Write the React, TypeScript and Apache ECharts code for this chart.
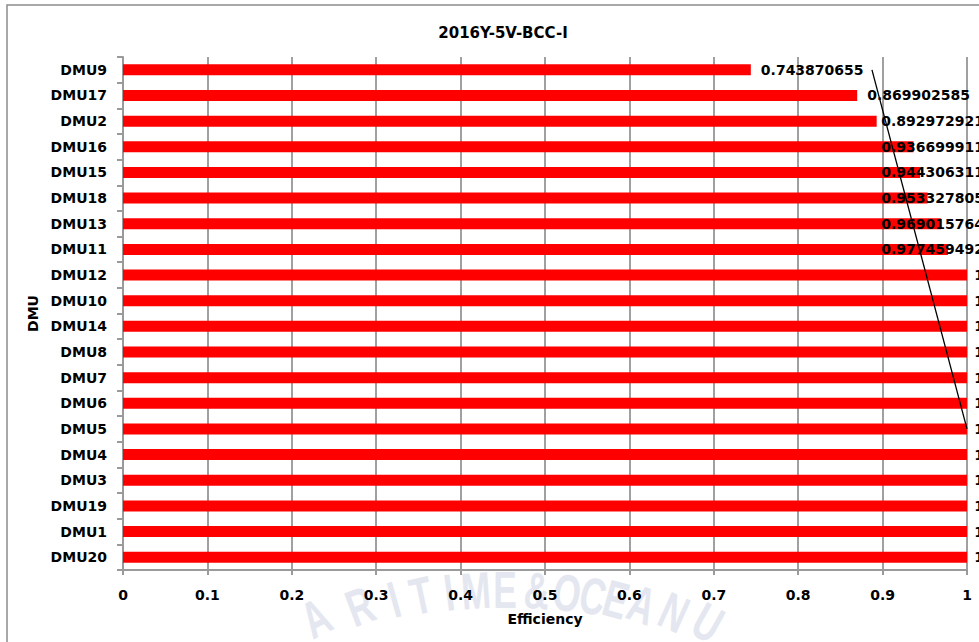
import React, { useEffect, useRef } from "react";
import * as echarts from "echarts";

// DMUs listed top to bottom
const categories = [
  "DMU9", "DMU17", "DMU2", "DMU16", "DMU15", "DMU18", "DMU13", "DMU11", "DMU12", "DMU10",
  "DMU14", "DMU8", "DMU7", "DMU6", "DMU5", "DMU4", "DMU3", "DMU19", "DMU1", "DMU20",
];

// BCC input-oriented efficiency scores
const efficiency = [
  0.743870655, 0.869902585, 0.892972921, 0.936699911, 0.944306311, 0.953327805,
  0.969015764, 0.977459492, 1, 1, 1, 1, 1, 1, 1, 1, 1, 1, 1, 1,
];

// straight guide line drawn over the bars: [efficiency, DMU]
const guideLine: [number, string][] = [
  [0.8874, "DMU9"],
  [1, "DMU5"],
];

const xMin = 0;
const xMax = 1;
const xStep = 0.1;

const titleText = "2016Y-5V-BCC-I";
const xName = "Efficiency";
const yName = "DMU";

// seal lettering below the axis, with the horizontal centre of each letter
const sealChars = ["A", "R", "I", "T", "I", "M", "E", "&", "O", "C", "E", "A", "N", "U"];
const sealX = [316, 360, 394, 421, 449, 476, 505, 537, 567, 593, 616, 642, 674, 708];

const FONT = '"DejaVu Sans", Verdana, sans-serif';
const LABEL_FONT = `bold 14px ${FONT}`;
const LABEL_GAP = 10;
const CHART_AREA_RIGHT = 984;

function sealLetters() {
  const cx = 505;
  const r = 650;
  const cy = 590 + r;
  return sealChars.map((ch, i) => {
    const a = Math.asin((sealX[i] - cx) / r);
    return {
      type: "text",
      x: cx + r * Math.sin(a),
      y: cy - r * Math.cos(a),
      rotation: -a * 1.6,
      scaleX: 0.68,
      z: -10,
      silent: true,
      style: {
        text: ch,
        font: 'bold 52px "Liberation Sans", Arial, sans-serif',
        fill: "#e4e7f0",
        textAlign: "center",
        textVerticalAlign: "middle",
      },
    };
  });
}

function textWidth(text: string) {
  const ctx = document.createElement("canvas").getContext("2d");
  if (!ctx) return text.length * 8;
  ctx.font = LABEL_FONT;
  return ctx.measureText(text).width;
}

export default function App() {
  const ref = useRef<HTMLDivElement>(null);

  useEffect(() => {
    if (!ref.current) return;
    const chart = echarts.init(ref.current, undefined, { renderer: "svg" });
    chart.setOption({
      animation: false,
      backgroundColor: "#ffffff",
      title: {
        text: titleText,
        left: 498,
        top: 20,
        textAlign: "center",
        textStyle: { fontFamily: FONT, fontWeight: "bold", fontSize: 15, color: "#000" },
      },
      graphic: [
        {
          type: "rect",
          z: -5,
          silent: true,
          shape: { x: 7, y: 5, width: 1100, height: 800 },
          style: { fill: "none", stroke: "#8c8c8c", lineWidth: 1.5 },
        },
        ...sealLetters(),
      ],
      grid: { left: 123, right: 12, top: 57, bottom: 72, containLabel: false },
      xAxis: {
        type: "value",
        min: xMin,
        max: xMax,
        interval: xStep,
        name: xName,
        nameLocation: "middle",
        nameGap: 42,
        nameTextStyle: { fontFamily: FONT, fontWeight: "bold", fontSize: 14, color: "#000" },
        axisLine: { show: true, lineStyle: { color: "#9a9a9a", width: 2 } },
        axisTick: { show: true, length: 5, lineStyle: { color: "#9a9a9a", width: 2 } },
        splitLine: { show: true, lineStyle: { color: "#a0a0a0", width: 2 } },
        axisLabel: {
          margin: 18,
          fontFamily: FONT,
          fontWeight: "bold",
          fontSize: 14,
          color: "#000",
          formatter: (v: number) => String(Math.round(v * 10) / 10),
        },
      },
      yAxis: {
        type: "category",
        data: categories,
        inverse: true,
        name: yName,
        nameLocation: "middle",
        nameRotate: 90,
        nameGap: 80,
        nameTextStyle: { fontFamily: FONT, fontWeight: "bold", fontSize: 14, color: "#000" },
        axisLine: { show: true, lineStyle: { color: "#9a9a9a", width: 2 } },
        axisTick: { show: true, length: 6, alignWithLabel: false, lineStyle: { color: "#9a9a9a", width: 2 } },
        splitLine: { show: false },
        axisLabel: {
          margin: 16,
          fontFamily: FONT,
          fontWeight: "bold",
          fontSize: 14,
          color: "#000",
        },
      },
      series: [
        {
          type: "bar",
          data: efficiency,
          barWidth: 11,
          itemStyle: { color: "#ff0000" },
          label: {
            show: true,
            position: "right",
            distance: LABEL_GAP,
            fontFamily: FONT,
            fontWeight: "bold",
            fontSize: 14,
            color: "#000",
            formatter: (p: any) => String(p.value),
          },
          z: 3,
        },
        {
          type: "line",
          data: guideLine,
          symbol: "none",
          silent: true,
          lineStyle: { color: "#000000", width: 1.3 },
          z: 5,
        },
      ],
    });

    // keep each value label inside the chart area: long labels slide left over their bar
    const shifted = efficiency.map((v, i) => {
      const end = chart.convertToPixel({ gridIndex: 0 }, [v, i])[0];
      const w = textWidth(String(v));
      const start = Math.min(end + LABEL_GAP, CHART_AREA_RIGHT - w);
      return { value: v, label: { offset: [start - (end + LABEL_GAP), 0] } };
    });
    chart.setOption({ series: [{ data: shifted }, {}] });

    return () => chart.dispose();
  }, []);

  return (
    <div
      ref={ref}
      style={{ position: "fixed", left: 0, top: 0, width: 979, height: 642, background: "#fff" }}
    />
  );
}
